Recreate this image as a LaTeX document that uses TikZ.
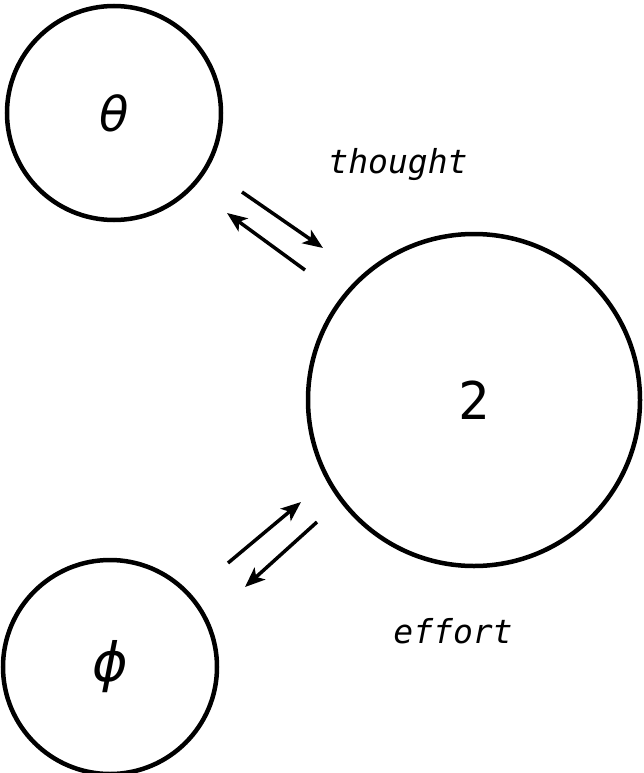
\documentclass[tikz,border=0pt]{standalone}
\usepackage{fontspec}
\newfontfamily\hand{DejaVu Sans Mono}
\newfontfamily\greek{DejaVu Sans}
\usetikzlibrary{arrows.meta}
\begin{document}
\begin{tikzpicture}[x=1pt,y=-1pt,
  blob/.style={circle,draw,line width=4.5pt,inner sep=0pt},
  flow/.style={line width=3.5pt,-{Stealth[length=20pt,width=16pt,inset=5pt]}},
  lab/.style={font=\hand\itshape\fontsize{33}{33}\selectfont,anchor=base,inner sep=0pt}]
\useasboundingbox (0,0) rectangle (643,773);
\node[blob,minimum size=214pt] (theta) at (114,113) {\greek\itshape\fontsize{48}{48}\selectfont θ};
\node[blob,minimum size=332pt] (two) at (474,400) {\hand\fontsize{52}{52}\selectfont 2};
\node[blob,minimum size=214pt] (phi) at (110,667) {\greek\itshape\fontsize{54}{54}\selectfont ϕ};
\node[lab] (thought) at (398,173) {thought};
\node[lab] (effort) at (453,643) {effort};
\coordinate (a1s) at (242,192); \coordinate (a1e) at (323,248);
\coordinate (a2s) at (305,270); \coordinate (a2e) at (227,213);
\coordinate (b1s) at (228,563); \coordinate (b1e) at (301,502);
\coordinate (b2s) at (317,522); \coordinate (b2e) at (245,587);
\draw[flow] (a1s) -- (a1e);
\draw[flow] (a2s) -- (a2e);
\draw[flow] (b1s) -- (b1e);
\draw[flow] (b2s) -- (b2e);
\end{tikzpicture}
\end{document}
